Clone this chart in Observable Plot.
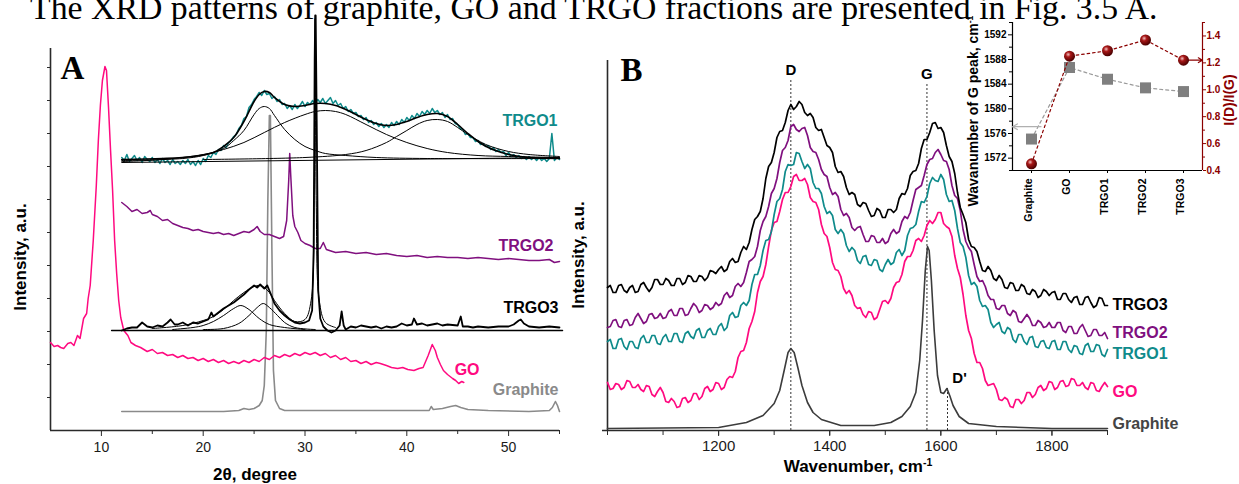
<!DOCTYPE html>
<html>
<head>
<meta charset="utf-8">
<script src="https://cdn.jsdelivr.net/npm/d3@7"></script>
<script src="https://cdn.jsdelivr.net/npm/@observablehq/plot@0.6"></script>
<style>
  html, body { margin: 0; padding: 0; background: #fff; }
  #fig { position: relative; width: 1239px; height: 484px; overflow: hidden; background: #fff; }
  #fig > svg, #fig > div { position: absolute; }
  #title { left: 30px; top: -9px; font-family: "Liberation Serif", "Times New Roman", serif; font-size: 33.8px; line-height: 34px; white-space: nowrap; color: #000; }
  .atitle { font-family: "Liberation Sans", Arial, sans-serif; font-weight: bold; white-space: nowrap; line-height: 1; transform: translate(-50%, -50%); color: #000; }
  .atitle.rot { transform: translate(-50%, -50%) rotate(-90deg); }
  .atitle sup { font-size: 0.62em; vertical-align: 0.55em; line-height: 0; }
</style>
</head>
<body>
<div id="fig">
  <div id="title">The XRD patterns of graphite, GO and TRGO fractions are presented in Fig. 3.5 A.</div>
</div>
<script>
// ================= DATA =================
// ---- Panel A : XRD (2θ in degrees, intensity in a.u.) ----
const xrdTheta = d3.range(12, 55.001, 0.25); // sampling grid of the TRGO1 pattern
const xrdTRGO1 = [
  273,270,276,269, 272,275,270,273, 268,274,271,269, 273,268,271,267,
  272,268,270,266, 271,267,269,266, 270,267,271,266, 269,265,270,266,
  272,269,275,273, 278,276,281,280, 285,283,288,290, 294,296,302,305,
  312,314,323,326, 331,334,338,335, 340,336,337,332, 334,329,331,326,
  327,322,325,321, 326,322,325,329, 324,328,326,330, 326,331,328,332,
  327,330,333,327, 330,325,327,322, 324,319,321,317, 318,314,315,311,
  313,308,310,306, 308,304,307,303, 306,303,308,305, 309,306,311,308,
  313,310,315,312, 317,314,319,316, 320,317,322,318, 320,316,318,313,
  316,311,312,307, 306,302,301,296, 297,293,293,289, 290,286,287,284,
  285,281,283,279, 281,278,279,275, 278,274,276,273, 275,272,274,271,
  274,271,273,270, 273,270,272,269, 272,297,270,273, 271
];
const xrdTRGO1Fit = [[12,271],[16,272],[19,274],[21,278],[22,284],[23,293],[24,309],[25,329],[25.5,336],[26,339],[26.5,338],[27,333],[28,326],[29,324],[30,325],[31,327],[32,327],[33,325],[34,321],[35,316],[36,311],[37,307],[38,305],[39,306],[40,309],[41,313],[42,316],[43,317],[44,314],[45,306],[46,297],[47,289],[48,283],[49,279],[50,276],[52,273],[55,272]];
const xrdTRGO1Peak1 = [[12,270],[18,272],[20,275],[22,282],[23,290],[24,300],[25,316],[25.5,322],[26,324],[26.5,322],[27,315],[28,301],[29,291],[30,284],[31,280],[32,277],[34,275],[37,273],[42,272],[55,272]];
const xrdTRGO1Peak2 = [[12,269],[16,271],[20,276],[22,281],[24,288],[26,298],[28,308],[30,316],[31,319],[32,320],[33,319],[34,316],[36,306],[38,296],[40,288],[42,282],[44,278],[47,275],[50,274],[55,273]];
const xrdTRGO1Peak3 = [[20,271],[30,273],[34,276],[36,280],[38,288],[39,294],[40,300],[41,306],[42,310],[43,311],[44,309],[45,303],[46,296],[47,290],[48,285],[50,279],[52,276],[55,274]];
const xrdTRGO1Base = [[12,268],[55,273]];
const xrdTRGO2 = [[12,228],[12.5,224],[13,219],[13.5,221],[14,217],[14.5,218],[14.8,220],[15,216],[15.5,214],[16,210],[16.5,211],[17,207],[17.5,205],[18,203],[18.5,202],[19,200],[19.5,201],[20,199],[20.5,198],[21,197],[21.5,198],[22,196],[22.5,197],[23,195],[23.5,197],[24,199],[24.5,198],[25,201],[25.3,204],[25.6,199],[26,196],[26.5,196],[27,194],[27.5,192],[27.9,194],[28.2,210],[28.4,250],[28.5,277],[28.6,255],[28.8,215],[29,204],[29.3,198],[29.6,190],[30,187],[30.5,185],[31,182],[31.5,182],[31.8,188],[32.1,181],[33,178],[34,179],[35,177],[36,178],[37,176],[38,177],[39,175],[40,174],[41,175],[42,173],[43,174],[44,173],[45,173],[46,172],[47,173],[48,172],[49,171],[50,172],[51,171],[52,170],[53,170],[54,171],[54.5,168],[55,169]];
const xrdTRGO3 = [[12,100],[12.5,102],[13,103],[13.5,103],[14,108],[14.5,104],[15,103],[15.5,105],[16,104],[16.5,108],[16.8,111],[17.2,106],[17.5,106],[18,108],[18.5,105],[19,108],[19.5,107],[20,109],[20.5,111],[20.8,118],[21,114],[21.5,118],[22,122],[22.5,125],[23,128],[23.5,132],[24,136],[24.5,141],[25,145],[25.3,143],[25.6,146],[26,142],[26.3,145],[26.7,135],[27,127],[27.5,120],[28,115],[28.5,111],[29,108],[29.5,107],[30,108],[30.4,110],[30.7,120],[30.85,180],[30.95,370],[31,415],[31.05,415],[31.15,310],[31.3,140],[31.5,112],[31.8,104],[32.2,100],[32.6,98],[33,100],[33.4,105],[33.6,119],[33.8,105],[34,101],[34.5,104],[35,103],[35.5,105],[36,104],[36.5,103],[37,104],[37.5,102],[38,104],[38.5,103],[39,104],[39.5,107],[40,105],[40.5,106],[40.7,112],[41,106],[41.5,107],[42,105],[42.5,106],[43,107],[43.5,105],[44,106],[45,105],[45.3,114],[45.5,104],[46,104],[46.5,103],[47,104],[48,103],[49,104],[50,104],[50.5,106],[51,110],[51.2,111],[51.5,107],[52,104],[53,103],[54,104],[55,103]];
const xrdTRGO3Fit = [[15,102],[18,105],[20,110],[21,114],[22,121],[23,130],[24,138],[25,144],[25.5,145],[26,143],[26.5,138],[27,130],[28,117],[29,109],[30,111],[30.6,130],[30.9,230],[31,412],[31.1,230],[31.4,130],[32,108],[33,103]];
const xrdTRGO3PeakA = [[17,101],[19,103],[20,105],[21,109],[22,115],[23,122],[23.7,125],[24.5,121],[25.5,112],[26.5,106],[28,103],[30,101]];
const xrdTRGO3PeakB = [[20,101],[22,102],[23.5,107],[24.5,115],[25.3,123],[25.9,127],[26.5,123],[27.3,115],[28,108],[29,103],[31,101]];
const xrdTRGO3Base = [[11,100],[55.3,100]];
const xrdGO = [[5,88],[5.35,84],[5.7,85],[6,83],[6.3,82],[6.7,87],[7,88],[7.3,85],[7.65,95],[7.9,92],[8.25,112],[8.55,117],[8.7,132],[8.9,145],[9.2,190],[9.5,245],[9.7,290],[9.9,325],[10.1,350],[10.35,364],[10.5,360],[10.7,323],[10.9,280],[11.1,240],[11.3,190],[11.5,157],[11.7,130],[11.9,113],[12.2,100],[12.6,95],[12.9,88],[13.35,85],[13.85,83],[14.5,79],[15,81],[15.5,77],[16,78],[16.5,75],[17,76],[17.5,73],[18,75],[18.5,72],[19,73],[19.5,70],[20,72],[20.5,69],[21,71],[21.5,68],[22,70],[22.5,67],[23,69],[23.5,67],[24,70],[24.5,68],[25,71],[25.5,69],[26,73],[26.5,71],[27,75],[27.5,73],[28,76],[28.5,74],[29,77],[29.5,75],[30,78],[30.5,76],[31,78],[31.5,75],[32,77],[32.5,73],[33,75],[33.5,71],[34,73],[34.5,69],[35,70],[35.5,67],[36,69],[36.5,66],[37,68],[37.4,67],[38,65],[38.5,63],[39.1,62],[39.6,63],[40.1,61],[40.7,60],[41.2,62],[41.6,63],[42.1,75],[42.5,86],[42.8,80],[43,73],[43.3,66],[43.6,60],[44,56],[44.5,52],[44.8,50],[45.1,47],[45.4,49],[45.6,48]];
const xrdGraphite = [[12,19],[15,19],[18,19],[20,19],[22,19],[23.5,20],[24,22],[24.5,21],[25,22],[25.5,25],[25.8,30],[26,45],[26.2,100],[26.35,230],[26.5,315],[26.6,315],[26.75,180],[26.9,60],[27.1,30],[27.5,22],[28,20],[30,20],[35,20],[40,20],[42.2,20],[42.4,24],[42.6,21],[43.5,22],[44.3,24],[44.8,25],[45.3,23],[46,21],[48,20],[52,19],[54,20],[54.3,23],[54.6,29],[54.8,25],[55,19]];
const xrdTicksMajor = [10, 20, 30, 40, 50];
const xrdTicksMinor = [15, 25, 35, 45, 55];
const xrdTicksY = [33, 66, 99, 132, 165, 198, 231, 264, 297, 330, 363];

// ---- Panel B : Raman (wavenumber in cm-1, intensity in a.u.) ----
const ramanGrid = d3.range(1000, 1901, 10);    // readings at 1000, 1010, ... 1900
const ramanGridMid = d3.range(1005, 1900, 10); // readings at 1005, 1015, ... 1895
const ramanTRGO3 = [
  143,138,145,140,143,138,146,143,143,151,
  146,150,145,152,148,154,149,154,153,159,
  161,159,169,168,178,181,201,214,232,264,
  278,299,308,326,324,326,315,313,300,293,
  283,264,259,243,238,226,228,220,215,220,
  213,221,221,237,242,259,267,291,298,308,
  303,285,269,238,216,191,183,169,159,160,
  150,151,142,147,140,144,136,139,135,139,
  138,131,137,131,133,126,133,128,125,132,
  125];
const ramanTRGO3Mid = [
  145,138,146,138,145,139,148,139,151,146,
  152,145,152,146,155,149,155,150,160,157,
  164,161,172,169,184,188,211,219,252,268,
  293,300,320,321,329,318,317,303,301,285,
  278,258,254,236,236,224,227,214,222,213,
  221,218,232,236,255,260,282,291,307,302,
  298,274,257,223,208,184,179,160,164,152,
  155,143,148,140,146,137,141,133,141,135,
  139,131,137,128,134,126,134,123,133,125];
const ramanTRGO2 = [
  103,110,104,110,105,113,112,109,117,113,
  112,119,115,122,115,122,124,120,125,123,
  125,135,133,144,144,158,171,184,209,224,
  242,268,283,304,301,302,295,279,271,256,
  243,238,221,217,203,203,196,189,194,188,
  187,197,197,209,212,230,243,255,271,278,
  276,269,245,232,201,183,166,149,144,131,
  122,125,117,120,109,112,112,105,108,104,
  103,108,100,104,97,103,100,95,101,95,
  92];
const ramanTRGO2Mid = [
  104,111,103,111,106,117,107,116,112,117,
  113,121,115,122,116,127,118,126,121,128,
  127,138,135,147,148,169,174,200,214,237,
  252,280,290,306,299,303,283,278,261,254,
  236,234,215,213,200,204,189,195,188,192,
  189,201,199,214,218,241,245,266,272,281,
  270,261,235,220,189,179,154,150,135,131,
  121,125,115,118,108,116,105,110,103,108,
  103,108,98,104,97,106,94,101,95,98];
const ramanTRGO1 = [
  89,82,91,84,89,83,92,88,95,87,
  93,89,97,89,97,94,100,93,100,96,
  104,100,115,113,125,125,146,156,180,191,
  216,232,259,265,278,269,266,248,242,224,
  219,201,201,185,183,170,174,166,171,161,
  166,166,178,175,195,203,219,228,247,250,
  256,236,230,202,184,155,148,130,125,108,
  106,99,103,91,96,89,93,84,89,83,
  89,81,89,81,85,77,85,79,86,76,
  81];
const ramanTRGO1Mid = [
  91,82,92,81,89,82,95,88,95,86,
  96,89,97,88,99,92,102,93,102,96,
  107,103,118,114,128,130,156,165,190,199,
  229,241,266,266,277,262,262,242,237,217,
  215,197,197,179,180,167,175,165,170,159,
  171,168,181,180,202,206,229,234,253,249,
  251,229,220,188,173,146,144,124,121,103,
  108,97,101,88,96,86,94,83,90,82,
  90,81,89,78,84,76,87,79,85,74];
const ramanGO = [
  48,42,46,43,49,43,41,45,36,39,
  38,28,29,24,33,30,37,34,44,41,
  47,43,54,59,79,88,109,138,154,184,
  208,219,238,244,256,250,246,229,221,197,
  183,161,154,137,135,122,116,119,111,121,
  130,132,148,156,174,180,192,195,210,211,
  218,204,194,162,136,100,77,68,50,46,
  41,30,31,23,31,30,38,36,45,42,
  48,43,50,45,51,45,43,48,40,44,
  44];
const ramanGOMid = [
  41,47,41,50,43,46,39,44,34,43,
  29,32,23,32,28,37,31,42,39,48,
  41,51,53,73,80,102,119,149,166,200,
  209,231,238,254,250,252,233,228,206,194,
  168,160,142,140,125,123,113,118,113,129,
  127,143,149,169,174,190,189,205,207,218,
  207,202,175,153,115,92,68,62,45,47,
  31,33,24,31,27,38,33,43,40,49,
  41,49,44,52,45,48,41,47,39,48];
const ramanGraphite = [[1000,2],[1100,2.5],[1200,3],[1250,8],[1280,15],[1300,27],[1310,40],[1318,60],[1325,78],[1330,82],[1336,78],[1343,62],[1350,45],[1360,28],[1370,18],[1385,11],[1420,5],[1480,5],[1510,8],[1530,14],[1545,24],[1555,38],[1562,70],[1567,110],[1572,160],[1576,184],[1579,180],[1583,150],[1588,100],[1594,55],[1600,38],[1605,37],[1611,42],[1616,35],[1622,25],[1633,14],[1650,7],[1700,4],[1800,2],[1900,2]];
const ramanBands = [{band: "D", wn: 1330, top: 352}, {band: "G", wn: 1575, top: 348}, {band: "D'", wn: 1612, top: 42}];
const ramanTicksMajor = [1200, 1400, 1600, 1800];
const ramanTicksAll = [1000, 1100, 1200, 1300, 1400, 1500, 1600, 1700, 1800, 1900];

// ---- Inset : G-peak position and I(D)/I(G) ----
const samples = ["Graphite", "GO", "TRGO1", "TRGO2", "TRGO3"];
const gPosition = [1575.1, 1586.7, 1584.8, 1583.4, 1582.8];
const ratioDG = [0.45, 1.25, 1.29, 1.37, 1.22];
const gTicks = [1572, 1576, 1580, 1584, 1588, 1592];
const gTicksMinor = [1570, 1574, 1578, 1582, 1586, 1590, 1594];
const ratioTicks = [0.4, 0.6, 0.8, 1.0, 1.2, 1.4];
const ratioTicksMinor = [0.5, 0.7, 0.9, 1.1, 1.3, 1.5];

// ================= STYLE =================
const FONT = "Liberation Sans, Arial, Helvetica, sans-serif";
const COL = {teal: "#0f8b8b", purple: "#80107f", pink: "#ff0a80", gray: "#8a8a8a", dark: "#3c3c3c", axis: "#2a2a2a", darkred: "#8b0000"};
const fig = document.getElementById("fig");
const plain = d => String(d);

function curve(data, stroke, width, extra = {}) {
  return Plot.line(data, {x: d => d[0], y: d => d[1], stroke, strokeWidth: width, strokeLinejoin: "round", ...extra});
}
function place(svg, left, top) {
  svg.style.left = left + "px";
  svg.style.top = top + "px";
  fig.appendChild(svg);
}
function axisTitle(html, cx, cy, size, rotated, color = "#000") {
  const div = document.createElement("div");
  div.className = "atitle" + (rotated ? " rot" : "");
  div.innerHTML = html;
  div.style.left = cx + "px";
  div.style.top = cy + "px";
  div.style.fontSize = size + "px";
  div.style.color = color;
  fig.appendChild(div);
}
// combine the two interleaved sets of readings of one spectrum
function spectrum(vals, mids) {
  return ramanGrid.map((x, i) => [x, vals[i]])
    .concat(ramanGridMid.map((x, i) => [x, mids[i]]))
    .sort((a, b) => a[0] - b[0]);
}
const baseStyle = {fontFamily: FONT, background: "transparent", overflow: "visible", color: "#1a1a1a"};

// ================= PANEL A =================
const plotA = Plot.plot({
  width: 600, height: 484,
  marginLeft: 50, marginRight: 41, marginTop: 48, marginBottom: 54,
  x: {domain: [5, 55]},
  y: {domain: [0, 382]},
  style: {...baseStyle, fontSize: "14px"},
  marks: [
    Plot.axisX({ticks: xrdTicksMajor, tickSize: 6, tickPadding: 6, tickFormat: plain, label: null, fontSize: 14, stroke: COL.axis}),
    Plot.axisX({ticks: xrdTicksMinor, tickSize: 4, tickFormat: () => "", label: null, stroke: COL.axis}),
    Plot.axisY({ticks: xrdTicksY, tickSize: 3, tickFormat: () => "", label: null, stroke: COL.axis}),
    Plot.ruleY([0], {stroke: COL.axis, strokeWidth: 1.6}),
    Plot.ruleX([5], {stroke: COL.axis, strokeWidth: 1.6}),
    curve(xrdGraphite, COL.gray, 1.6),
    curve(xrdGO, COL.pink, 1.5),
    curve(xrdTRGO2, COL.purple, 1.5),
    Plot.line(xrdTRGO1, {x: (d, i) => xrdTheta[i], y: d => d, stroke: COL.teal, strokeWidth: 1.5, strokeLinejoin: "round"}),
    curve(xrdTRGO1Base, "#000", 1),
    curve(xrdTRGO1Peak1, "#000", 1, {curve: "catmull-rom"}),
    curve(xrdTRGO1Peak2, "#000", 1, {curve: "catmull-rom"}),
    curve(xrdTRGO1Peak3, "#000", 1, {curve: "catmull-rom"}),
    curve(xrdTRGO1Fit, "#000", 1.6, {curve: "catmull-rom"}),
    curve(xrdTRGO3Base, "#000", 1.4),
    curve(xrdTRGO3PeakA, "#000", 1, {curve: "catmull-rom"}),
    curve(xrdTRGO3PeakB, "#000", 1, {curve: "catmull-rom"}),
    curve(xrdTRGO3Fit, "#000", 1, {curve: "catmull-rom"}),
    curve(xrdTRGO3, "#000", 1.8),
    Plot.text(["TRGO1"], {x: 55, y: 310, dx: -2, text: d => d, textAnchor: "end", fill: COL.teal, fontSize: 16, fontWeight: "bold"}),
    Plot.text(["TRGO2"], {x: 55, y: 185, dx: -6, text: d => d, textAnchor: "end", fill: COL.purple, fontSize: 16, fontWeight: "bold"}),
    Plot.text(["TRGO3"], {x: 55, y: 123, dx: -1, text: d => d, textAnchor: "end", fill: "#000", fontSize: 16, fontWeight: "bold"}),
    Plot.text(["GO"], {x: 44.7, y: 61, text: d => d, textAnchor: "start", fill: COL.pink, fontSize: 16, fontWeight: "bold"}),
    Plot.text(["Graphite"], {x: 55, y: 41, dx: -1, text: d => d, textAnchor: "end", fill: COL.gray, fontSize: 16, fontWeight: "bold"}),
    Plot.text(["A"], {frameAnchor: "top-left", dx: 10, dy: 7, text: d => d, textAnchor: "start", lineAnchor: "top", fontFamily: "Liberation Serif, Times New Roman, serif", fontSize: 33, fontWeight: "bold", fill: "#000"})
  ]
});
place(plotA, 0, 0);

// ================= PANEL B =================
const plotB = Plot.plot({
  width: 679, height: 484,
  marginLeft: 47, marginRight: 132, marginTop: 60, marginBottom: 54,
  x: {domain: [1000, 1900]},
  y: {domain: [0, 370], axis: null},
  style: {...baseStyle, fontSize: "15px"},
  marks: [
    Plot.axisX({ticks: ramanTicksMajor, tickSize: 6, tickPadding: 4, tickFormat: plain, label: null, fontSize: 15, stroke: COL.axis}),
    Plot.axisX({ticks: ramanTicksAll, tickSize: 5, tickFormat: () => "", label: null, stroke: COL.axis}),
    Plot.ruleY([0], {stroke: COL.axis, strokeWidth: 1.6, insetLeft: -5}),
    Plot.ruleX([1000], {stroke: COL.axis, strokeWidth: 1.6}),
    Plot.ruleX(ramanBands, {x: "wn", y1: 0, y2: "top", stroke: "#333", strokeWidth: 1, strokeDasharray: "2,2"}),
    curve(ramanGraphite, COL.dark, 1.6),
    curve(spectrum(ramanGO, ramanGOMid), COL.pink, 1.7),
    curve(spectrum(ramanTRGO1, ramanTRGO1Mid), COL.teal, 1.7),
    curve(spectrum(ramanTRGO2, ramanTRGO2Mid), COL.purple, 1.7),
    curve(spectrum(ramanTRGO3, ramanTRGO3Mid), "#000", 1.7),
    Plot.text(ramanBands.slice(0, 2), {x: "wn", y: d => d.top + 8, text: "band", fontSize: 15, fontWeight: "bold", fill: "#000"}),
    Plot.text(ramanBands.slice(2), {x: "wn", y: 52, dx: 12, text: "band", fontSize: 15, fontWeight: "bold", fill: "#000"}),
    Plot.text(["TRGO3"], {x: 1900, y: 126, dx: 5, text: d => d, textAnchor: "start", fill: "#000", fontSize: 16, fontWeight: "bold"}),
    Plot.text(["TRGO2"], {x: 1900, y: 98, dx: 5, text: d => d, textAnchor: "start", fill: COL.purple, fontSize: 16, fontWeight: "bold"}),
    Plot.text(["TRGO1"], {x: 1900, y: 77, dx: 5, text: d => d, textAnchor: "start", fill: COL.teal, fontSize: 16, fontWeight: "bold"}),
    Plot.text(["GO"], {x: 1900, y: 39, dx: 5, text: d => d, textAnchor: "start", fill: COL.pink, fontSize: 16, fontWeight: "bold"}),
    Plot.text(["Graphite"], {x: 1900, y: 7, dx: 5, text: d => d, textAnchor: "start", fill: "#444", fontSize: 16, fontWeight: "bold"}),
    Plot.text(["B"], {frameAnchor: "top-left", dx: 13, dy: -3, text: d => d, textAnchor: "start", lineAnchor: "top", fontFamily: "Liberation Serif, Times New Roman, serif", fontSize: 33, fontWeight: "bold", fill: "#000"})
  ]
});
place(plotB, 560, 0);

// ================= INSET =================
const insetDims = {width: 299, height: 230, marginLeft: 72, marginRight: 37, marginTop: 22, marginBottom: 60};
const idx = (d, i) => i;
const insetL = Plot.plot({
  ...insetDims,
  x: {domain: [-0.5, 4.5]},
  y: {domain: [1570, 1594]},
  style: {...baseStyle, fontSize: "10px", fontWeight: "bold"},
  marks: [
    Plot.axisY({ticks: gTicks, tickSize: 4, tickPadding: 2, tickFormat: plain, label: null, fontSize: 10, fontWeight: "bold", stroke: "#000", fill: "#000"}),
    Plot.axisY({ticks: gTicksMinor, tickSize: 3, tickFormat: () => "", label: null, stroke: "#000"}),
    Plot.axisX({ticks: [0, 1, 2, 3, 4], tickSize: 3, tickFormat: () => "", label: null, stroke: "#000"}),
    Plot.ruleX([-0.5], {stroke: "#000", strokeWidth: 1.2}),
    Plot.ruleY([1570], {stroke: "#000", strokeWidth: 1.2}),
    Plot.text(samples, {x: idx, frameAnchor: "bottom", dy: 8, rotate: -90, textAnchor: "end", text: d => d, fontSize: 10.5, fontWeight: "bold", fill: "#000"}),
    Plot.line(gPosition, {x: idx, y: d => d, stroke: "#9a9a9a", strokeWidth: 1.2, strokeDasharray: "3,3"}),
    Plot.arrow([gPosition[0]], {x1: 0.25, x2: -0.5, y1: d => d + 2, y2: d => d + 2, stroke: "#b0b0b0", strokeWidth: 1.2, headLength: 7, bend: 0}),
    Plot.dot(gPosition, {x: idx, y: d => d, symbol: "square", r: 6.2, fill: "#7f7f7f", stroke: "none"})
  ]
});
place(insetL, 940, 0);

const insetR = Plot.plot({
  ...insetDims,
  x: {domain: [-0.5, 4.5], axis: null},
  y: {domain: [0.4, 1.5], axis: null},
  style: {...baseStyle, fontSize: "10px", fontWeight: "bold"},
  marks: [
    Plot.axisY({anchor: "right", ticks: ratioTicks, tickFormat: d3.format(".1f"), tickSize: 3, tickPadding: 1, label: null, fontSize: 10, fontWeight: "bold", stroke: COL.darkred, fill: COL.darkred}),
    Plot.axisY({anchor: "right", ticks: ratioTicksMinor, tickSize: 2, tickFormat: () => "", label: null, stroke: COL.darkred}),
    Plot.ruleX([4.5], {stroke: COL.darkred, strokeWidth: 1.2}),
    Plot.line(ratioDG, {x: idx, y: d => d, stroke: COL.darkred, strokeWidth: 1.2, strokeDasharray: "2.5,3"}),
    Plot.arrow([ratioDG[4]], {x1: 4.05, x2: 4.5, y1: d => d, y2: d => d, stroke: COL.darkred, strokeWidth: 1.2, headLength: 6, bend: 0}),
    Plot.dot(ratioDG, {x: idx, y: d => d, r: 5.5, fill: "url(#ballGrad)", stroke: "none"})
  ]
});
const defs = d3.select(insetR).insert("defs", ":first-child");
const grad = defs.append("radialGradient").attr("id", "ballGrad").attr("cx", "38%").attr("cy", "35%").attr("r", "65%");
grad.append("stop").attr("offset", "0").attr("stop-color", "#f2c0c0");
grad.append("stop").attr("offset", "0.35").attr("stop-color", "#a81818");
grad.append("stop").attr("offset", "1").attr("stop-color", "#4a0000");
place(insetR, 940, 0);

// ================= AXIS TITLES =================
axisTitle("Intensity, a.u.", 20, 257, 17, true);
axisTitle("2θ, degree", 255, 474, 17, false);
axisTitle("Intensity, a.u.", 578, 255, 17, true);
axisTitle("Wavenumber, cm<sup>-1</sup>", 858, 466, 17, false);
axisTitle("Wavanumber of G peak, cm<sup>-1</sup>", 973, 111, 14, true);
axisTitle("I(D)/I(G)", 1229, 100, 14, true, COL.darkred);
</script>
</body>
</html>
